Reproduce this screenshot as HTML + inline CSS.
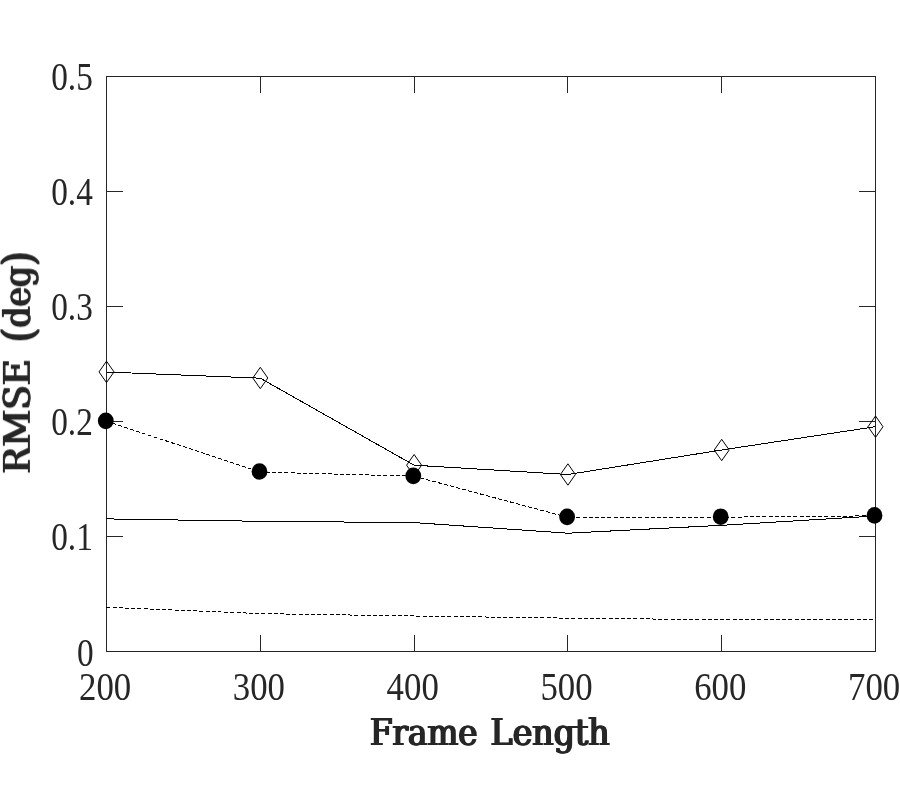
<!DOCTYPE html>
<html>
<head>
<meta charset="utf-8">
<title>RMSE vs Frame Length</title>
<style>
html,body{margin:0;padding:0;background:#fff;}
body{width:900px;height:800px;overflow:hidden;}
svg{display:block;}
.tick{font-family:"Liberation Serif",serif;font-size:33.3px;fill:#262626;}
.lab{font-family:"DejaVu Serif","Liberation Serif",serif;font-size:37px;fill:#262626;}
</style>
</head>
<body>
<svg width="900" height="800" viewBox="0 0 900 800">
<defs>
  <filter id="hxl" filterUnits="userSpaceOnUse" x="-50" y="-100" width="900" height="200" color-interpolation-filters="sRGB">
    <feOffset in="SourceGraphic" dx="0.6" dy="0" result="a"/>
    <feOffset in="SourceGraphic" dx="-0.6" dy="0" result="b"/>
    <feMerge><feMergeNode in="a"/><feMergeNode in="b"/><feMergeNode in="SourceGraphic"/></feMerge>
  </filter>
  <filter id="gs" filterUnits="userSpaceOnUse" x="0" y="0" width="900" height="800" color-interpolation-filters="sRGB">
    <feOffset in="SourceGraphic" dx="0" dy="0"/>
  </filter>
</defs>
<rect x="0" y="0" width="900" height="800" fill="#ffffff"/>

<!-- axes box and ticks -->
<g stroke="#262626" stroke-width="1" fill="none" shape-rendering="crispEdges">
  <rect x="106.5" y="76.5" width="769" height="575"/>
  <!-- x ticks bottom -->
  <path d="M260.5 651.5V634.9M414.5 651.5V634.9M567.5 651.5V634.9M721.5 651.5V634.9"/>
  <!-- x ticks top -->
  <path d="M260.5 76.5V92.5M414.5 76.5V92.5M567.5 76.5V92.5M721.5 76.5V92.5"/>
  <!-- y ticks left -->
  <path d="M106.5 536.5H122.5M106.5 421.5H122.5M106.5 306.5H122.5M106.5 191.5H122.5"/>
  <!-- y ticks right -->
  <path d="M875.5 536.5H858.9M875.5 421.5H858.9M875.5 306.5H858.9M875.5 191.5H858.9"/>
</g>

<!-- data lines -->
<g stroke="#000" stroke-width="1" fill="none" shape-rendering="crispEdges">
  <!-- solid with diamonds -->
  <polyline points="106.5,372 260.3,378.2 414.1,465.2 567.9,474.5 721.7,450 875.5,426.7"/>
  <!-- solid no marker -->
  <polyline points="106.5,518.9 260.3,521.3 414.1,522.6 567.9,533.2 721.7,525.3 875.5,516"/>
  <!-- dashed no marker -->
  <polyline stroke-dasharray="4 2.2" points="106.5,607.3 260.3,613.6 414.1,616 567.9,618.15 721.7,619.7 875.5,619.9"/>
  <!-- dashed with circles -->
  <polyline stroke-dasharray="4 2.2" points="106.5,421.2 260.3,472 414.1,476.2 567.9,517.4 721.7,517.2 875.5,515.8"/>
</g>

<!-- diamond markers -->
<g stroke="#000" stroke-width="1" fill="none">
  <path d="M106.5 361.2L114 371.9L106.5 382.6L99 371.9Z"/>
  <path d="M260.3 367.3L267.8 378L260.3 388.7L252.8 378Z"/>
  <path d="M414.1 454.5L421.6 465.2L414.1 475.9L406.6 465.2Z"/>
  <path d="M567.9 463.8L575.4 474.5L567.9 485.2L560.4 474.5Z"/>
  <path d="M721.7 439.3L729.2 450L721.7 460.7L714.2 450Z"/>
  <path d="M875.5 416L883 426.7L875.5 437.4L868 426.7Z"/>
</g>

<!-- circle markers -->
<g fill="#000" stroke="none">
  <ellipse cx="105.8" cy="420.9" rx="7.9" ry="8.3"/>
  <ellipse cx="259.5" cy="471.5" rx="7.9" ry="8.3"/>
  <ellipse cx="413.3" cy="475.9" rx="7.9" ry="8.3"/>
  <ellipse cx="567.1" cy="516.9" rx="7.9" ry="8.3"/>
  <ellipse cx="720.7" cy="516.7" rx="7.9" ry="8.3"/>
  <ellipse cx="874.5" cy="515.4" rx="7.9" ry="8.3"/>
</g>

<!-- y tick labels -->
<g class="tick" text-anchor="end" filter="url(#gs)">
  <text transform="translate(92.8,89.6) scale(1,1.2)">0.5</text>
  <text transform="translate(92.8,204.6) scale(1,1.2)">0.4</text>
  <text transform="translate(92.8,319.6) scale(1,1.2)">0.3</text>
  <text transform="translate(92.8,434.6) scale(1,1.2)">0.2</text>
  <text transform="translate(92.8,549.6) scale(1,1.2)">0.1</text>
  <text transform="translate(93.6,665.5) scale(1,1.2)">0</text>
</g>

<!-- x tick labels -->
<g class="tick" text-anchor="middle" filter="url(#gs)">
  <text transform="translate(105.1,699.8) scale(1.045,1.2)">200</text>
  <text transform="translate(258.9,699.8) scale(1.045,1.2)">300</text>
  <text transform="translate(412.7,699.8) scale(1.045,1.2)">400</text>
  <text transform="translate(566.5,699.8) scale(1.045,1.2)">500</text>
  <text transform="translate(720.3,699.8) scale(1.045,1.2)">600</text>
  <text transform="translate(874.1,699.8) scale(1.045,1.2)">700</text>
</g>

<!-- axis labels -->
<g transform="translate(0,744.9)"><text class="lab" x="0" y="0" filter="url(#hxl)"><tspan x="370" textLength="107.5" lengthAdjust="spacingAndGlyphs">Frame</tspan><tspan> </tspan><tspan x="490.6" textLength="119" lengthAdjust="spacingAndGlyphs">Length</tspan></text></g>
<g transform="translate(29.9,472.3) rotate(-90)"><text class="lab" x="0" y="0" filter="url(#hxl)"><tspan x="-1.2" textLength="114.5" lengthAdjust="spacingAndGlyphs">RMSE</tspan><tspan> </tspan><tspan x="130" textLength="91" lengthAdjust="spacingAndGlyphs"><tspan font-size="42.5px" dy="2.6">(</tspan><tspan dy="-2.6">deg</tspan><tspan font-size="42.5px" dy="2.6">)</tspan></tspan></text></g>
</svg>
</body>
</html>
